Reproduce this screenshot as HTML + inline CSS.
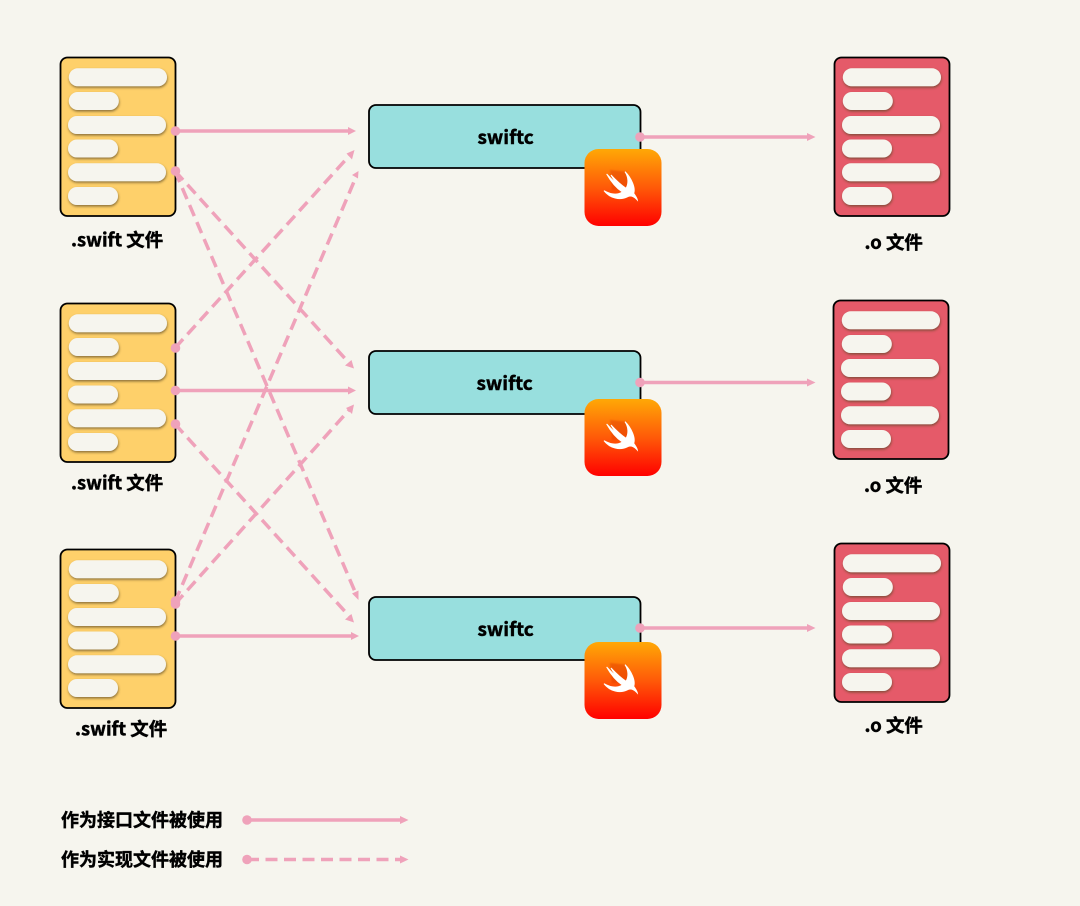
<!DOCTYPE html>
<html>
<head>
<meta charset="utf-8">
<style>
html,body{margin:0;padding:0;background:#f6f5ee;}
svg{display:block;}
text{font-family:"Noto Sans CJK SC","Liberation Sans",sans-serif;font-weight:700;fill:#000;stroke:#000;stroke-width:0.45px;}
</style>
</head>
<body>
<svg width="1080" height="906" viewBox="0 0 1080 906" xmlns="http://www.w3.org/2000/svg">
<defs>
  <filter id="sh" x="-20%" y="-40%" width="140%" height="190%">
    <feDropShadow dx="0.5" dy="1.5" stdDeviation="1.2" flood-color="#5a4520" flood-opacity="0.7"/>
  </filter>
  <filter id="bl" x="-50%" y="-50%" width="200%" height="200%"><feGaussianBlur stdDeviation="2.5"/></filter>
  <linearGradient id="ic" x1="0" y1="0" x2="0" y2="1">
    <stop offset="0" stop-color="#ffa806"/>
    <stop offset="0.5" stop-color="#ff5a08"/>
    <stop offset="1" stop-color="#ff0000"/>
  </linearGradient>
  <g id="bars" filter="url(#sh)" fill="#f6f5ee">
    <rect x="8.800" y="11.300" width="98.200" height="18" rx="9"/>
    <rect x="8.800" y="35" width="50" height="18" rx="9"/>
    <rect x="8" y="59" width="98" height="18" rx="9"/>
    <rect x="8" y="82.500" width="50" height="18" rx="9"/>
    <rect x="8" y="106.300" width="98" height="18" rx="9"/>
    <rect x="8" y="130" width="50" height="18" rx="9"/>
  </g>
  <g id="yd">
    <rect x="0.500" y="0.500" width="115" height="158.500" rx="7" fill="#fed06a" stroke="#000" stroke-width="1.800"/>
    <use href="#bars"/>
  </g>
  <g id="rd">
    <rect x="0.500" y="0.500" width="115" height="158.500" rx="7" fill="#e55a69" stroke="#000" stroke-width="1.800"/>
    <use href="#bars"/>
  </g>
  <g id="icon">
    <rect x="0" y="0" width="77" height="77" rx="14" fill="url(#ic)"/>
    <g transform="translate(10.500,11) scale(0.3333)">
      <path d="M45 30 L95 35 L105 90 L50 90Z" fill="#e03a00" opacity="0.45" filter="url(#bl)"/>
      <path d="M90 35 C110 55 122 85 116 100 C122 108 126 114 127 120 C118 110 108 105 98 110 C75 122 45 115 27 92 C50 105 68 105 82 96 C65 85 48 65 35 42 C50 58 62 70 72 76 C62 68 55 58 48 45 C62 60 78 75 93 85 C102 70 100 50 90 35Z" fill="#fff" stroke="#fff" stroke-width="3"/>
    </g>
  </g>
  <g id="box">
    <rect x="0" y="0" width="271.500" height="63" rx="7" fill="#98dfde" stroke="#000" stroke-width="1.800"/>
  </g>
</defs>

<rect width="1080" height="906" fill="#f6f5ee"/>

<use href="#yd" x="60" y="57"/>
<use href="#yd" x="60" y="303"/>
<use href="#yd" x="60" y="549"/>

<use href="#rd" x="834" y="57"/>
<use href="#rd" x="833" y="300"/>
<use href="#rd" x="834" y="543"/>

<use href="#box" x="369" y="105"/>
<use href="#box" x="369" y="351"/>
<use href="#box" x="369" y="597"/>

<use href="#icon" x="584.500" y="149"/>
<use href="#icon" x="584.500" y="399"/>
<use href="#icon" x="584.500" y="642"/>

<!-- connectors -->
<g stroke="#efa2ba" stroke-width="3.500" fill="none">
  <line x1="175" y1="131" x2="349" y2="131"/>
  <line x1="175" y1="390.500" x2="349" y2="390.500"/>
  <line x1="175" y1="636" x2="352" y2="636"/>
  <line x1="640" y1="137" x2="809" y2="137"/>
  <line x1="640" y1="382.500" x2="809" y2="382.500"/>
  <line x1="640" y1="628" x2="809" y2="628"/>
  <line x1="247" y1="820" x2="402" y2="820"/>
  <g stroke-dasharray="12 6.500">
    <line x1="175" y1="171" x2="350" y2="364"/>
    <line x1="175" y1="171" x2="356" y2="594"/>
    <line x1="175" y1="348" x2="350" y2="155"/>
    <line x1="175" y1="424" x2="350" y2="617"/>
    <line x1="175" y1="602" x2="356" y2="177"/>
    <line x1="175" y1="604" x2="350" y2="409"/>
    <line x1="247" y1="859.500" x2="402" y2="859.500"/>
  </g>
</g>
<g fill="#efa2ba">
  <circle cx="175.500" cy="131" r="4.800"/>
  <circle cx="175.500" cy="171" r="4.800"/>
  <circle cx="175.500" cy="348" r="4.800"/>
  <circle cx="175.500" cy="390.500" r="4.800"/>
  <circle cx="175.500" cy="424" r="4.800"/>
  <circle cx="175.500" cy="601" r="4.800"/>
  <circle cx="175.500" cy="604" r="4.800"/>
  <circle cx="175.500" cy="636" r="4.800"/>
  <circle cx="640" cy="137" r="4.800"/>
  <circle cx="640" cy="382.500" r="4.800"/>
  <circle cx="640" cy="628" r="4.800"/>
  <circle cx="247" cy="820" r="4.800"/>
  <circle cx="247" cy="859.500" r="4.800"/>
  <!-- arrowheads horizontal -->
  <polygon points="348,127 356,131 348,135"/>
  <polygon points="348,386.500 356,390.500 348,394.500"/>
  <polygon points="351,632 359,636 351,640"/>
  <polygon points="807,133 815.500,137 807,141"/>
  <polygon points="807,378.500 815.500,382.500 807,386.500"/>
  <polygon points="807,624 815.500,628 807,632"/>
  <polygon points="400,816 408.500,820 400,824"/>
  <polygon points="400,855.500 408.500,859.500 400,863.500"/>
  <!-- arrowheads diagonal -->
  <polygon points="354.500,150 346.500,153.500 352,159.500"/>
  <polygon points="358.500,171 352,175 358,178.500 "/>
  <polygon points="354,368.500 351.500,360 345,365.500"/>
  <polygon points="354,404.500 346,408 352,414"/>
  <polygon points="358.500,600 352,593.500 358.500,590.500"/>
  <polygon points="354,622.500 351.500,614 345,619.500"/>
</g>

<!-- labels -->
<g font-size="18.400">
  <text x="71" y="246.500">.swift 文件</text>
  <text x="71" y="489.500">.swift 文件</text>
  <text x="75" y="735.500">.swift 文件</text>
  <text x="864.500" y="249">.o 文件</text>
  <text x="864" y="492">.o 文件</text>
  <text x="864.500" y="732">.o 文件</text>
</g>
<g font-size="19">
  <text x="477.500" y="144">swiftc</text>
  <text x="476.500" y="390">swiftc</text>
  <text x="477.500" y="636">swiftc</text>
</g>
<g font-size="18">
  <text x="61" y="826.500">作为接口文件被使用</text>
  <text x="61" y="866">作为实现文件被使用</text>
</g>
</svg>
</body>
</html>
